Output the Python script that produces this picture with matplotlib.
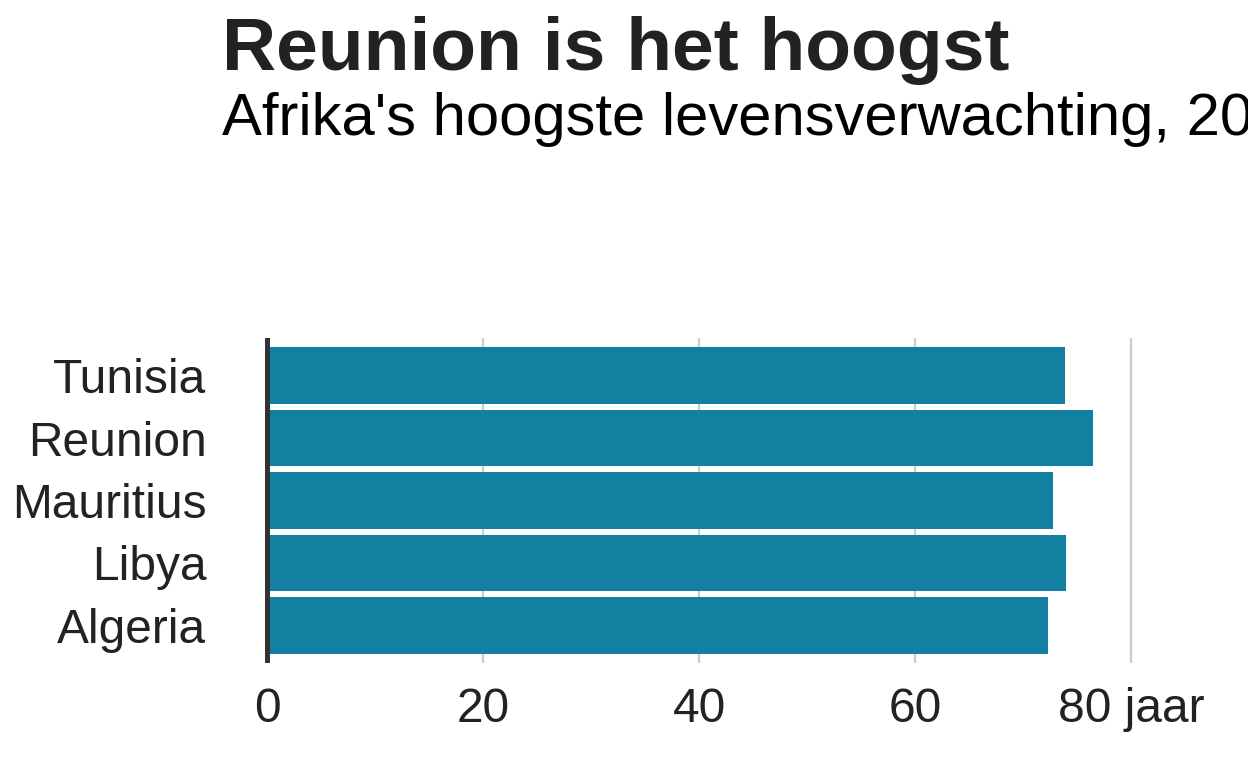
import matplotlib
matplotlib.use("Agg")
import matplotlib.pyplot as plt

countries = ["Algeria", "Libya", "Mauritius", "Reunion", "Tunisia"]
life_exp = [72.301, 73.952, 72.801, 76.442, 73.923]
xticks = [0, 20, 40, 60, 80]
xtick_labels = ["0", "20", "40", "60", "80 jaar"]
title = "Reunion is het hoogst"
subtitle = "Afrika's hoogste levensverwachting, 2007"

plt.rcParams['font.family'] = ['Liberation Sans', 'DejaVu Sans']

W, H = 1248, 768
fig = plt.figure(figsize=(W/100, H/100), dpi=100)

x0, x1 = -2, 82
px_per_unit = 10.8
zero_px = 267
left_px = zero_px + x0*px_per_unit
right_px = zero_px + x1*px_per_unit
top_px, bot_px = 338, 663
ax = fig.add_axes([left_px/W, 1-bot_px/H, (right_px-left_px)/W, (bot_px-top_px)/H])

ypos = list(range(len(countries)))
ax.barh(ypos, life_exp, height=0.9, color="#1380A1", zorder=2)
ax.set_ylim(-0.6, len(countries)-0.4)
ax.set_xlim(x0, x1)

for x in xticks:
    ax.axvline(x, color="#cbcbcb", linewidth=1.6, zorder=1)
ax.axvline(0, color="#333333", linewidth=3.6, zorder=3)

ax.set_xticks(xticks)
ax.set_xticklabels(xtick_labels)
ax.set_yticks(ypos)
ax.set_yticklabels(countries)
ax.tick_params(axis='both', length=0, labelsize=34.5, labelcolor="#222222")
ax.tick_params(axis='x', pad=17)
ax.tick_params(axis='y', pad=28)
for s in ax.spines.values():
    s.set_visible(False)

fig.text(222/W, 1-70/H, title, fontsize=54, fontweight='bold', color="#222222",
         ha='left', va='baseline')
fig.text(222/W, 1-135/H, subtitle, fontsize=43, color="#000000",
         ha='left', va='baseline')

fig.savefig("out.png", dpi=100)
